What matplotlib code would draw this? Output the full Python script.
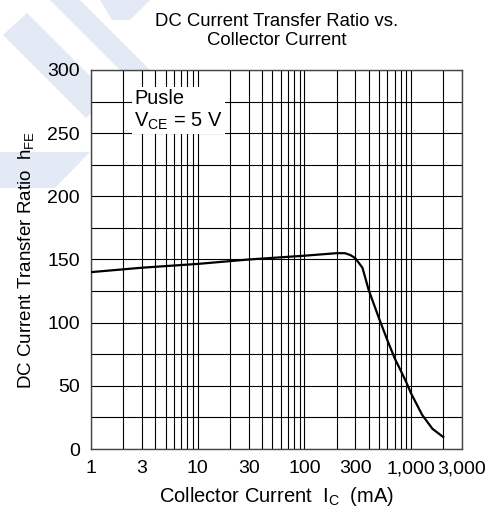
import matplotlib
matplotlib.use("Agg")
import matplotlib.pyplot as plt
from matplotlib.patches import Polygon
from matplotlib.ticker import FixedLocator, NullFormatter

plt.rcParams['font.family'] = ['Liberation Sans', 'DejaVu Sans']
plt.rcParams['mathtext.default'] = 'regular'

# -----------------------
# Data
# -----------------------
ic_ma = [1, 3, 10, 30, 100, 200, 240, 270, 300, 350, 400, 500, 600, 700, 800, 900, 1000, 1270, 1585, 2000]
hfe = [140, 143.5, 146.5, 150, 153, 155, 155, 153.5, 151, 143.5, 126, 103.5, 86, 72, 62, 53, 44, 27, 16, 9.5]

x_ticks = [1, 3, 10, 30, 100, 300, 1000, 3000]
x_labels = ["1", "3", "10", "30", "100", "300", "1,000", "3,000"]
x_minor = [m * 10 ** d for d in range(4) for m in range(2, 10) if m * 10 ** d < 3000]
y_ticks = [0, 50, 100, 150, 200, 250, 300]
y_minor = [25, 75, 125, 175, 225, 275]

# -----------------------
# Figure
# -----------------------
fig = plt.figure(figsize=(4.9, 5.15), dpi=100)

# faint logo watermark behind everything (pixel coords, y down)
W, H = 490, 515
wm = "#e3e9f5"
shapes = [
    [(3, 35), (27, 13), (110, 96), (86, 118)],
    [(50, 0), (80, 0), (150, 70), (120, 70)],
    [(100, 0), (150, 0), (130, 20), (112, 20)],
    [(0, 152), (90, 152), (55, 188), (0, 188)],
]
for pts in shapes:
    fig.patches.append(Polygon([(x / W, 1 - y / H) for x, y in pts], closed=True,
                               transform=fig.transFigure, fc=wm, ec="none", zorder=-5))

ax = fig.add_axes([91 / W, 1 - 449 / H, 371 / W, 379 / H])
ax.set_facecolor("white")

ax.plot(ic_ma, hfe, color="black", lw=1.6, zorder=3)

ax.set_xscale("log")
ax.set_xlim(1, 3000)
ax.set_ylim(0, 300)
ax.xaxis.set_major_locator(FixedLocator(x_ticks))
ax.set_xticklabels(x_labels)
ax.xaxis.set_minor_locator(FixedLocator(x_minor))
ax.xaxis.set_minor_formatter(NullFormatter())
ax.set_yticks(y_ticks)
ax.yaxis.set_minor_locator(FixedLocator(y_minor))

ax.grid(which="both", color="black", lw=0.8)
ax.set_axisbelow(True)
ax.tick_params(which="both", length=0, labelsize=14)
ax.tick_params(axis="x", pad=8)
ax.tick_params(axis="y", pad=8)
for s in ax.spines.values():
    s.set_color("#444444")
    s.set_linewidth(1.0)

ax.text(2.55, 285, "Pusle\nV$_{CE}$ = 5 V", fontsize=14.4, ha="left", va="top",
        linespacing=1.15, zorder=4,
        bbox=dict(fc="white", ec="none", pad=2))

ax.set_title("DC Current Transfer Ratio vs.\nCollector Current", fontsize=13.3, pad=18,
             linespacing=1.15)
ax.set_xlabel("Collector Current  I$_C$  (mA)", fontsize=14.5, labelpad=6)
ax.set_ylabel("DC Current Transfer Ratio  h$_{FE}$", fontsize=13.5, labelpad=8)

fig.savefig("out.png", dpi=100)
